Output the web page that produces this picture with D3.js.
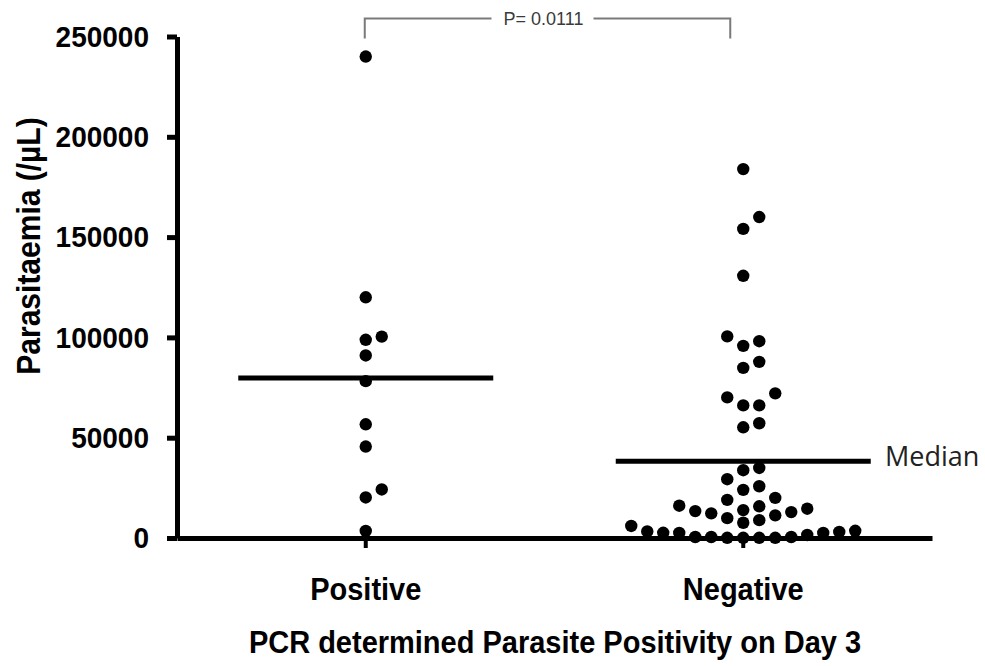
<!DOCTYPE html>
<html>
<head>
<meta charset="utf-8">
<script src="https://cdn.jsdelivr.net/npm/d3@7"></script>
<style>
  body { margin: 0; background: #fff; }
  svg { display: block; }
</style>
</head>
<body>
<div id="chart"></div>
<script>
// data
const categories = ["Positive", "Negative"];
const positiveValues = [240000, 120000, 100400, 98800, 91000, 78200, 56700, 45600, 24200, 20200, 3500];
const negativeValues = [
  183900, 160000, 154100, 130700, 100500, 98100, 95800, 87800, 84800, 72100,
  70100, 66100, 66100, 57200, 55200, 34900, 33800, 29300, 25800, 24000,
  20000, 19000, 16100, 15800, 14600, 13900, 13400, 12900, 12300, 11300,
  9900, 8900, 7600, 6000, 3600, 3300, 3000, 2600, 2500, 2500,
  1500, 500, 500, 500, 100, 100, 100, 100
];
const medianValues = [79700, 38300];
const yTicks = [0, 50000, 100000, 150000, 200000, 250000];
const pValueText = "P= 0.0111";
const medianText = "Median";
const yTitle = "Parasitaemia (/\u00b5L)";
const xTitle = "PCR determined Parasite Positivity on Day 3";

const width = 985, height = 666;
const plot = {left: 177, right: 932, top: 36.5, bottom: 538};
const dotRadius = 6.2;
const slotWidth = 16;      // horizontal step between dots of the same row
const collideGap = 12.5;   // vertical distance under which two dots clash
const font = "'Liberation Sans', Arial, sans-serif";
const stretch = "scale(1,1.08)"; // original lettering is a bit taller than Arial

const svg = d3.select("#chart").append("svg")
  .attr("width", width)
  .attr("height", height);

const x = d3.scaleBand().domain(categories).range([plot.left, plot.right]);
const y = d3.scaleLinear().domain([0, 250000]).range([plot.bottom, plot.top]);

// simple column-scatter layout: try slots 0, +1, -1, +2, -2 ... until free
function swarm(values, category) {
  const placed = [];
  const sorted = values.slice().sort((a, b) => a - b);
  sorted.forEach(v => {
    const py = y(v);
    let k = 0;
    for (let i = 0; ; i++) {
      k = i === 0 ? 0 : (i % 2 === 1 ? (i + 1) / 2 : -i / 2);
      const clash = placed.some(p => p.slot === k && Math.abs(p.y - py) < collideGap);
      if (!clash) break;
    }
    placed.push({value: v, slot: k, y: py, category: category});
  });
  return placed;
}

const points = swarm(positiveValues, "Positive").concat(swarm(negativeValues, "Negative"));

// y axis
const yAxis = d3.axisLeft(y)
  .tickValues(yTicks)
  .tickFormat(d3.format("d"))
  .tickSize(10)
  .tickSizeOuter(0)
  .tickPadding(18);

const yAxisG = svg.append("g")
  .attr("class", "yAxisG")
  .attr("transform", "translate(" + plot.left + ",0)")
  .call(yAxis);

yAxisG.select(".domain").attr("stroke", "#000").attr("stroke-width", 5);
yAxisG.selectAll(".tick line").attr("stroke", "#000").attr("stroke-width", 5);
yAxisG.selectAll(".tick text")
  .attr("transform", stretch)
  .attr("font-family", font)
  .attr("font-weight", "bold")
  .attr("font-size", 28)
  .attr("fill", "#000");

// x axis
const xAxis = d3.axisBottom(x).tickSize(10).tickSizeOuter(0).tickPadding(27);
const xAxisG = svg.append("g")
  .attr("class", "xAxisG")
  .attr("transform", "translate(0," + plot.bottom + ")")
  .call(xAxis);

xAxisG.select(".domain").attr("stroke", "#000").attr("stroke-width", 5);
xAxisG.selectAll(".tick line").attr("stroke", "#000").attr("stroke-width", 4);
xAxisG.selectAll(".tick text")
  .attr("transform", stretch)
  .attr("font-family", font)
  .attr("font-weight", "bold")
  .attr("font-size", 29)
  .attr("fill", "#000");

// dots
svg.append("g").attr("class", "dots")
  .selectAll("circle")
  .data(points)
  .join("circle")
  .attr("cx", d => x(d.category) + x.bandwidth() / 2 + d.slot * slotWidth)
  .attr("cy", d => y(d.value))
  .attr("r", dotRadius)
  .attr("fill", "#000");

// median bars
const medianHalf = 127.5;
svg.append("g").attr("class", "medians")
  .selectAll("line")
  .data(categories.map((c, i) => ({category: c, value: medianValues[i]})))
  .join("line")
  .attr("x1", d => x(d.category) + x.bandwidth() / 2 - medianHalf)
  .attr("x2", d => x(d.category) + x.bandwidth() / 2 + medianHalf)
  .attr("y1", d => y(d.value))
  .attr("y2", d => y(d.value))
  .attr("stroke", "#000")
  .attr("stroke-width", 5);

svg.append("text")
  .attr("x", plot.right - 47)
  .attr("y", y(medianValues[1]) + 5)
  .attr("font-family", "'Open Sans', 'Noto Sans', sans-serif")
  .attr("font-size", 27)
  .attr("fill", "#222")
  .text(medianText);

// significance bracket
const bx1 = x("Positive") + x.bandwidth() / 2 - 1;
const bx2 = x("Negative") + x.bandwidth() / 2 - 13;
const by = 18.5, bDrop = 20;
const bMid = (bx1 + bx2) / 2 - 4;
const bracket = svg.append("g").attr("class", "bracket")
  .attr("stroke", "#7a7a7a").attr("stroke-width", 2).attr("fill", "none");
bracket.append("path").attr("d", `M${bx1},${by + bDrop}V${by}H${bMid - 52}`);
bracket.append("path").attr("d", `M${bMid + 50},${by}H${bx2}V${by + bDrop}`);
svg.append("text")
  .attr("x", bMid)
  .attr("y", by + 6)
  .attr("text-anchor", "middle")
  .attr("font-family", font)
  .attr("font-size", 18)
  .attr("fill", "#3a3a3a")
  .text(pValueText);

// axis titles
svg.append("text")
  .attr("transform", "translate(40,246) rotate(-90) " + stretch)
  .attr("text-anchor", "middle")
  .attr("font-family", font)
  .attr("font-weight", "bold")
  .attr("font-size", 30)
  .attr("fill", "#000")
  .text(yTitle);

svg.append("text")
  .attr("transform", "translate(555,653) " + stretch)
  .attr("text-anchor", "middle")
  .attr("font-family", font)
  .attr("font-weight", "bold")
  .attr("font-size", 29)
  .attr("fill", "#000")
  .text(xTitle);
</script>
</body>
</html>
